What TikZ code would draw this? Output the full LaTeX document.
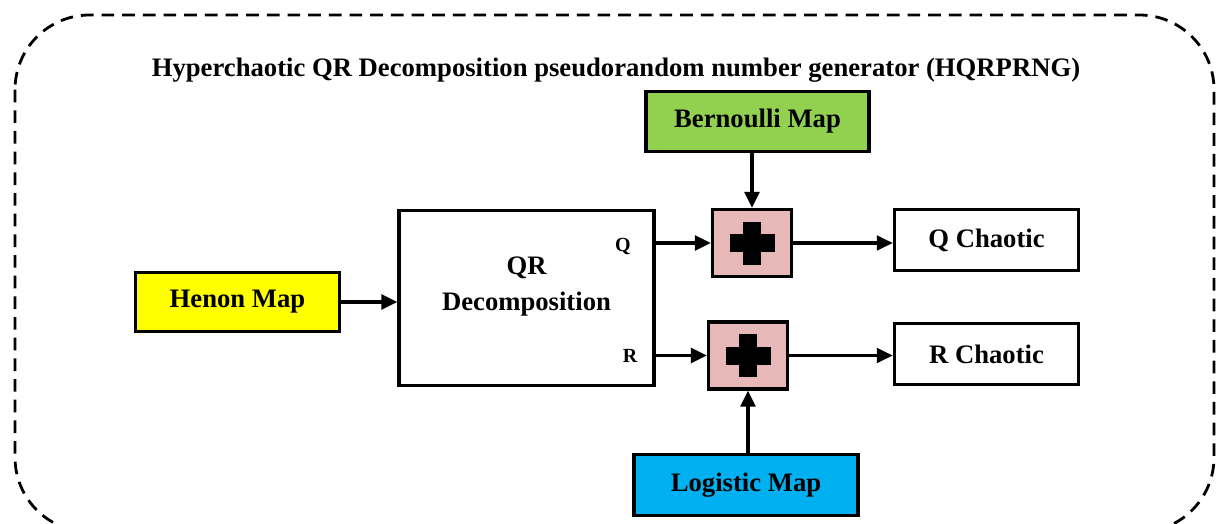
\documentclass[tikz,border=0pt]{standalone}
\usepackage{fontspec}
\setmainfont{Liberation Serif}
\usetikzlibrary{arrows.meta}
\definecolor{pinkbox}{HTML}{E6B9B8}
\definecolor{greenbox}{HTML}{92D050}
\definecolor{bluebox}{HTML}{00B0F0}
\definecolor{yellowbox}{HTML}{FFFF00}
\tikzset{
  blk/.style={draw=black, line width=2.6pt, inner sep=0pt, font=\fontsize{20}{23}\selectfont\bfseries, align=center},
  plusbox/.style={blk, fill=pinkbox, minimum width=59pt, minimum height=50pt},
  arr/.style={line width=2.4pt, -{Triangle[length=12pt,width=11pt]}},
  port/.style={font=\fontsize{15}{17}\selectfont\bfseries, inner sep=0pt},
}
\begin{document}
\begin{tikzpicture}[x=0.75pt,y=-0.75pt]
\useasboundingbox (0,0) rectangle (1216,524);
\begin{scope}
\clip (0,0) rectangle (1216,524);
\draw[line width=2.1pt, dash pattern=on 9.5pt off 6pt, rounded corners=56pt] (15,15) rectangle (1214,532);
\end{scope}
\node[font=\fontsize{20}{23}\selectfont\bfseries] (title) at (616,70) {Hyperchaotic QR Decomposition pseudorandom number generator (HQRPRNG)};
\node[blk, fill=yellowbox, minimum width=153pt, minimum height=44pt] (henon) at (237.5,302) {Henon Map};
\node[blk, minimum width=191pt, minimum height=131pt] (qr) at (526.5,298) {};
\node[font=\fontsize{20}{23}\selectfont\bfseries, inner sep=0pt, align=center] (qrtext) at (526.5,287) {QR\\[4pt]Decomposition};
\node[port] (qlab) at (623,246) {Q};
\node[port] (rlab) at (630,356) {R};
\node[blk, fill=greenbox, minimum width=167pt, minimum height=45pt] (ber) at (757.5,121.5) {Bernoulli Map};
\node[plusbox] (pq) at (752,243) {};
\node[plusbox] (pr) at (748,355.5) {};
\node[blk, minimum width=138pt, minimum height=46pt] (qc) at (986.5,240) {Q Chaotic};
\node[blk, minimum width=138pt, minimum height=46pt] (rc) at (986.5,354) {R Chaotic};
\node[blk, fill=bluebox, minimum width=168pt, minimum height=46pt] (logi) at (746,485) {Logistic Map};
\foreach \p in {pq,pr}{
  \fill ([shift={(-9,-21.5)}]\p.center) rectangle ([shift={(9,21.5)}]\p.center);
  \fill ([shift={(-22.5,-9)}]\p.center) rectangle ([shift={(22.5,9)}]\p.center);
}
\draw[arr] (henon.east) -- (qr.west |- henon.east);
\draw[arr] (qr.east |- pq.west) -- (pq.west);
\draw[arr] (qr.east |- pr.west) -- (pr.west);
\draw[arr] (pq.north |- ber.south) -- (pq.north);
\draw[arr] (pr.south |- logi.north) -- (pr.south);
\draw[arr] (pq.east) -- (qc.west |- pq.east);
\draw[arr] (pr.east) -- (rc.west |- pr.east);
\end{tikzpicture}
\end{document}
